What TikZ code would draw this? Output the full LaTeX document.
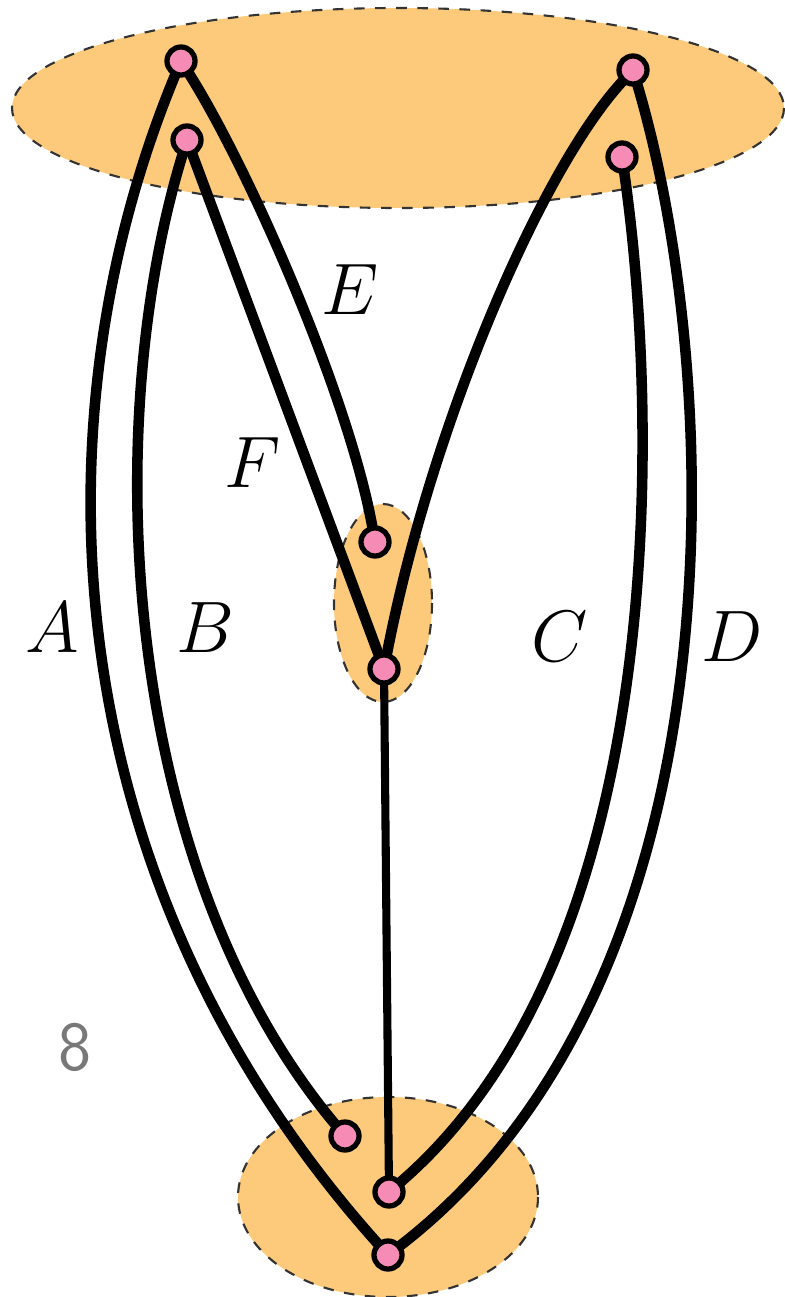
\documentclass[tikz,border=0pt]{standalone}
\usepackage{tikz}
\usepackage{amsmath}
\usetikzlibrary{calc}

\definecolor{blobfill}{RGB}{252,202,122}
\definecolor{vtxpink}{RGB}{246,140,182}
\definecolor{pagegray}{RGB}{120,120,120}

\tikzset{
    blob/.style={fill=blobfill, draw=black!80, dashed, line width=0.6pt},
    vtx/.style={circle, fill=vtxpink, draw=black, line width=1.5pt,
        minimum size=0.28cm, inner sep=0pt, outer sep=0pt},
    strand/.style={line width=3pt},
    thinstrand/.style={line width=2.3pt},
    lbl/.style={font=\fontsize{22}{26}\selectfont}
}

\begin{document}
\begin{tikzpicture}[x=0.01cm, y=-0.01cm]

    \useasboundingbox (0,0) rectangle (784,1297);

    % Regions
    \draw[blob] (398,108) ellipse [x radius=386, y radius=100];
    \draw[blob] (383,603) ellipse [x radius=49, y radius=99];
    \draw[blob] (388,1197) ellipse [x radius=150, y radius=100];

    % Vertices
    \node[vtx] (t1) at (181,61) {};
    \node[vtx] (t2) at (187,140) {};
    \node[vtx] (t3) at (633,70) {};
    \node[vtx] (t4) at (622,157) {};
    \node[vtx] (m1) at (375,542) {};
    \node[vtx] (m2) at (384,669) {};
    \node[vtx] (b1) at (345,1136) {};
    \node[vtx] (b2) at (389,1192) {};
    \node[vtx] (b3) at (388,1255) {};

    % Outer strands A and D
    \draw[strand] (t1) .. controls (32,420) and (52,880) .. (b3);
    \draw[strand] (t3) .. controls (725,380) and (745,980) .. (b3);

    % Inner strands B and C
    \draw[strand] (t2) .. controls (98,430) and (122,870) .. (b1);
    \draw[strand] (t4) .. controls (660,420) and (670,950) .. (b2);

    % Strands E and F into the middle
    \draw[strand] (t1) .. controls (250,170) and (350,400) .. (m1);
    \draw[strand] (t2) -- (m2);
    \draw[strand] (t3) .. controls (540,170) and (430,430) .. (m2);

    % Stem
    \draw[thinstrand] (m2) -- (b2);

    % Labels
    \node[lbl] (labE) at (350,290) {$E$};
    \node[lbl] (labF) at (253,463) {$F$};
    \node[lbl] (labA) at (52,628) {$A$};
    \node[lbl] (labB) at (205,628) {$B$};
    \node[lbl] (labC) at (560,637) {$C$};
    \node[lbl] (labD) at (732,637) {$D$};

    \node[font=\sffamily\fontsize{20}{24}\selectfont, text=pagegray] (pagenum) at (75,1047) {8};

\end{tikzpicture}
\end{document}
